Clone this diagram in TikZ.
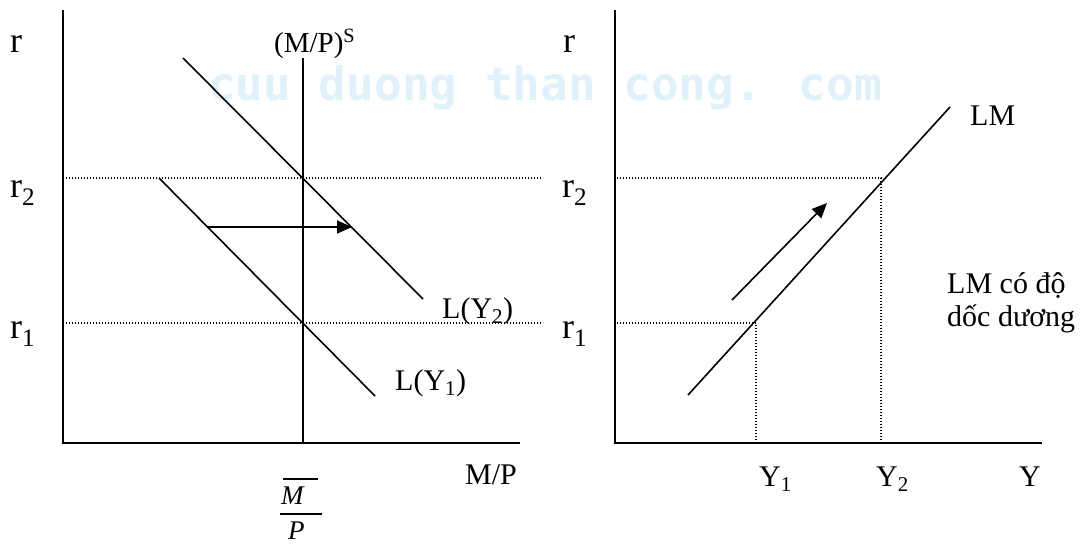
\documentclass[tikz,border=0pt]{standalone}
\usepackage{fontspec}
\setmainfont{Liberation Serif}
\newfontfamily\wmfont{DejaVu Sans Mono}
\usetikzlibrary{arrows.meta}
\definecolor{wmblue}{RGB}{224,241,251}
\begin{document}
\begin{tikzpicture}[x=1pt,y=-1pt,
  curve/.style={line width=1.6pt},
  axisline/.style={line width=2pt},
  guide/.style={line width=1.1pt, dash pattern=on 1pt off 2pt},
  lbl/.style={inner sep=0pt, anchor=base west, font=\fontsize{30}{34}\selectfont},
  rlbl/.style={inner sep=0pt, anchor=base west, font=\fontsize{36}{40}\selectfont},
  tipline/.style={line width=1.6pt, -{Triangle[length=15pt,width=13pt]}}]
\useasboundingbox (0,0) rectangle (1086,544);
% watermark
\node[inner sep=0pt, anchor=base west, text=wmblue, font=\wmfont\bfseries\fontsize{46}{50}\selectfont] (wm) at (208,100) {cuu duong than cong. com};

% ---------- left panel ----------
\coordinate (Ltop) at (63,10);
\coordinate (Lo) at (63,443);
\coordinate (Lend) at (520,443);
\coordinate (MStop) at (303,58);
\coordinate (MSbot) at (303,443);
\coordinate (L2a) at (183,58);
\coordinate (L2b) at (423,299);
\coordinate (L1a) at (159,178);
\coordinate (L1b) at (375,396);
\coordinate (A1) at (208,227);
\coordinate (A2) at (352,227);
\coordinate (g2a) at (66,178);
\coordinate (g2b) at (543,178);
\coordinate (g1a) at (66,323);
\coordinate (g1b) at (543,323);

\draw[guide] (g2a) -- (g2b);
\draw[guide] (g1a) -- (g1b);
\draw[axisline] (Ltop) -- (Lo) -- (Lend);
\draw[curve] (MStop) -- (MSbot);
\draw[curve] (L2a) -- (L2b);
\draw[curve] (L1a) -- (L1b);
\draw[tipline] (A1) -- (A2);

\node[rlbl] (rL) at (10,52) {r};
\node[rlbl] (r2L) at (10,197) {r\textsubscript{2}};
\node[rlbl] (r1L) at (10,338) {r\textsubscript{1}};
\node[lbl, font=\fontsize{29}{33}\selectfont] (MPS) at (274,52) {(M/P)\textsuperscript{S}};
\node[lbl] (LY2) at (442,318) {L(Y\textsubscript{2})};
\node[lbl] (LY1) at (395,390) {L(Y\textsubscript{1})};
\node[lbl] (MP) at (465,484) {M/P};
% M-bar over P
\node[lbl, font=\fontsize{27}{30}\selectfont\itshape] (Mbar) at (281,504) {M};
\node[lbl, font=\fontsize{27}{30}\selectfont\itshape] (Pden) at (288,539) {P};
\draw[line width=1.2pt] (283,479) -- (318,479);
\draw[line width=1.2pt] (280,514) -- (322,514);

% ---------- right panel ----------
\coordinate (Rtop) at (615,10);
\coordinate (Ro) at (615,443);
\coordinate (Rend) at (1042,443);
\coordinate (LMa) at (688,395);
\coordinate (LMb) at (950,107);
\coordinate (B1) at (732,300);
\coordinate (B2) at (827,203);
\coordinate (h2a) at (617,178);
\coordinate (h2b) at (881,178);
\coordinate (v2b) at (881,443);
\coordinate (h1a) at (617,323);
\coordinate (h1b) at (756,323);
\coordinate (v1b) at (756,443);

\draw[guide] (h2a) -- (h2b) -- (v2b);
\draw[guide] (h1a) -- (h1b) -- (v1b);
\draw[axisline] (Rtop) -- (Ro) -- (Rend);
\draw[curve] (LMa) -- (LMb);
\draw[tipline] (B1) -- (B2);

\node[rlbl] (rR) at (563,52) {r};
\node[rlbl] (r2R) at (562,197) {r\textsubscript{2}};
\node[rlbl] (r1R) at (562,338) {r\textsubscript{1}};
\node[lbl] (LM) at (970,125) {LM};
\node[lbl] (note1) at (947,293) {LM có độ};
\node[lbl] (note2) at (947,326) {dốc dương};
\node[lbl] (Y1) at (759,486) {Y\textsubscript{1}};
\node[lbl] (Y2) at (876,486) {Y\textsubscript{2}};
\node[lbl] (Y) at (1019,486) {Y};
\end{tikzpicture}
\end{document}
